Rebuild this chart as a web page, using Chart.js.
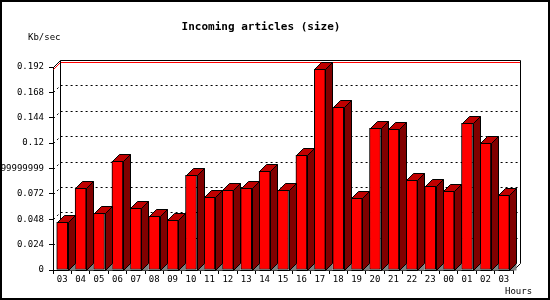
<!DOCTYPE html>
<html>
<head>
<meta charset="utf-8">
<script src="https://cdn.jsdelivr.net/npm/chart.js@4"></script>
<style>
  html, body { margin: 0; padding: 0; background: #fff; }
  #wrap { width: 550px; height: 300px; }
</style>
</head>
<body>
<div id="wrap"><canvas id="chart" width="550" height="300"></canvas></div>
<script>
const hours = ['03', '04', '05', '06', '07', '08', '09', '10', '11', '12', '13', '14',
  '15', '16', '17', '18', '19', '20', '21', '22', '23', '00', '01', '02', '03'];
const kbPerSec = [0.0451, 0.0773, 0.0536, 0.1028, 0.0584, 0.0508, 0.0470, 0.0896, 0.0688,
  0.0754, 0.0773, 0.0934, 0.0754, 0.1085, 0.1898, 0.1539, 0.0678, 0.1340, 0.1331,
  0.0848, 0.0792, 0.0744, 0.1387, 0.1198, 0.0707];
const yTickValues = [0, 0.024, 0.048, 0.072, 0.096, 0.12, 0.144, 0.168, 0.192];
const yTickLabels = ['0', '0.024', '0.048', '0.072', '0.09599999999999999', '0.12', '0.144', '0.168', '0.192'];

const DEPTH = 7;
const MONO = '"DejaVu Sans Mono", "Liberation Mono", monospace';

const px = v => Math.round(v) + 0.5;

// walls, dotted grid and the max line, drawn behind the bars
const backWall = {
  id: 'backWall',
  beforeDatasetsDraw(chart) {
    const { ctx, chartArea: a, scales: { y } } = chart;
    const L = px(a.left), R = px(a.right), B = px(a.bottom), T = px(a.top);
    ctx.save();
    ctx.lineWidth = 1;
    ctx.strokeStyle = '#000';

    // dotted grid lines on left wall and back wall
    ctx.setLineDash([2, 3]);
    yTickValues.slice(1, -1).forEach(v => {
      const yy = px(y.getPixelForValue(v));
      ctx.beginPath();
      ctx.moveTo(L, yy);
      ctx.lineTo(L + DEPTH, yy - DEPTH);
      ctx.lineTo(R + DEPTH, yy - DEPTH);
      ctx.stroke();
    });
    ctx.setLineDash([]);

    // max value line
    const maxY = px(y.getPixelForValue(Math.max(...kbPerSec)));
    ctx.strokeStyle = '#ff0000';
    ctx.beginPath();
    ctx.moveTo(L, maxY);
    ctx.lineTo(L + DEPTH, maxY - DEPTH);
    ctx.lineTo(R + DEPTH, maxY - DEPTH);
    ctx.stroke();

    // wall outline
    ctx.strokeStyle = '#000';
    ctx.beginPath();
    ctx.moveTo(L, T);
    ctx.lineTo(L + DEPTH, T - DEPTH);
    ctx.lineTo(R + DEPTH, T - DEPTH);
    ctx.lineTo(R + DEPTH, B - DEPTH);
    ctx.lineTo(R, B);
    ctx.moveTo(L + DEPTH, T - DEPTH);
    ctx.lineTo(L + DEPTH, B - DEPTH);
    ctx.stroke();
    ctx.restore();
  }
};

// top and side faces of each bar
const bars3d = {
  id: 'bars3d',
  afterDatasetsDraw(chart) {
    const { ctx } = chart;
    const meta = chart.getDatasetMeta(0);
    ctx.save();
    ctx.lineWidth = 1;
    ctx.strokeStyle = '#000';
    meta.data.forEach(bar => {
      const { x, y, base, width } = bar.getProps(['x', 'y', 'base', 'width'], true);
      const l = px(x - width / 2), r = px(x + width / 2), t = px(y), b = px(base);

      ctx.fillStyle = '#808080';
      ctx.beginPath();
      ctx.moveTo(r, b);
      ctx.lineTo(r + DEPTH, b);
      ctx.lineTo(r + DEPTH, b - DEPTH);
      ctx.closePath();
      ctx.fill();

      ctx.fillStyle = '#800000';
      ctx.beginPath();
      ctx.moveTo(r, b);
      ctx.lineTo(r + DEPTH, b - DEPTH);
      ctx.lineTo(r + DEPTH, t - DEPTH);
      ctx.lineTo(r, t);
      ctx.closePath();
      ctx.fill();
      ctx.stroke();

      ctx.fillStyle = '#c00000';
      ctx.beginPath();
      ctx.moveTo(l, t);
      ctx.lineTo(l + DEPTH, t - DEPTH);
      ctx.lineTo(r + DEPTH, t - DEPTH);
      ctx.lineTo(r, t);
      ctx.closePath();
      ctx.fill();
      ctx.stroke();
    });
    ctx.restore();
  }
};

// title, axis captions and the frame
const decorations = {
  id: 'decorations',
  afterDraw(chart) {
    const { ctx, width, height } = chart;
    ctx.save();
    ctx.fillStyle = '#000';
    ctx.textBaseline = 'middle';
    ctx.font = 'bold 11px ' + MONO;
    ctx.textAlign = 'center';
    ctx.fillText('Incoming articles (size)', 261, 27);
    ctx.font = '9px ' + MONO;
    ctx.textAlign = 'left';
    ctx.fillText('Kb/sec', 28, 38);
    ctx.fillText('Hours', 505, 292);
    ctx.strokeStyle = '#000';
    ctx.lineWidth = 2;
    ctx.strokeRect(1, 1, width - 2, height - 2);
    ctx.restore();
  }
};

new Chart(document.getElementById('chart'), {
  type: 'bar',
  data: {
    labels: hours,
    datasets: [{
      data: kbPerSec,
      backgroundColor: '#ff0000',
      borderColor: '#000',
      borderWidth: 1,
      borderSkipped: false,
      barThickness: 11
    }]
  },
  options: {
    responsive: false,
    animation: false,
    layout: { padding: { left: 0, right: 37, top: 67, bottom: 0 } },
    plugins: {
      legend: { display: false },
      title: { display: false },
      tooltip: { enabled: false }
    },
    scales: {
      x: {
        afterFit: s => { s.height = 30; },
        grid: { drawOnChartArea: false, color: '#000', tickLength: 4, offset: true },
        border: { color: '#000' },
        ticks: {
          color: '#000',
          font: { family: MONO, size: 9 },
          autoSkip: false,
          maxRotation: 0,
          padding: 0
        }
      },
      y: {
        min: 0,
        max: 0.192,
        afterFit: s => { s.width = 53; },
        afterBuildTicks: s => { s.ticks = yTickValues.map(v => ({ value: v })); },
        grid: { drawOnChartArea: false, color: '#000', tickLength: 4 },
        border: { color: '#000' },
        ticks: {
          color: '#000',
          font: { family: MONO, size: 9 },
          padding: 5,
          callback: (v, i) => yTickLabels[i]
        }
      }
    }
  },
  plugins: [backWall, bars3d, decorations]
});
</script>
</body>
</html>
